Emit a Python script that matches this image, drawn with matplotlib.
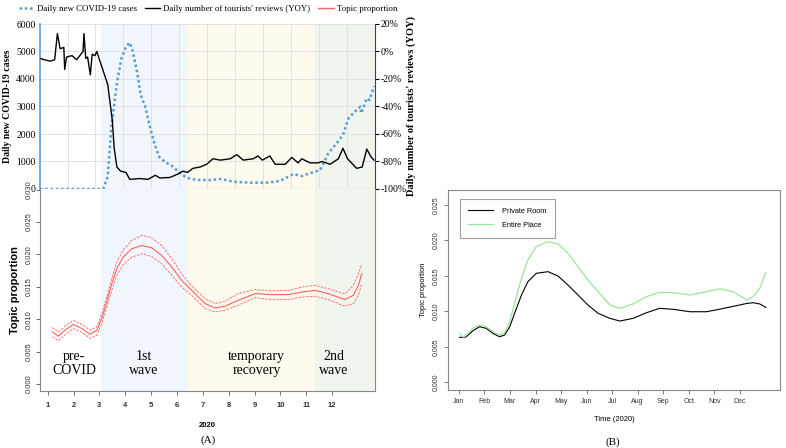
import matplotlib
matplotlib.use("Agg")
import matplotlib.pyplot as plt
from matplotlib.lines import Line2D
from matplotlib.patches import Rectangle

# ---- (A) top: daily cases + reviews YOY (day of year 2020) ----
case_days = [0, 69, 74, 78, 84, 89, 94, 98, 101, 106, 110, 115, 120, 125, 130, 137, 144,
             151, 160, 171, 186, 198, 211, 229, 248, 262, 277, 286, 297, 306, 315, 324,
             331, 337, 344, 350, 351, 357, 360, 365]
cases = [0, 0, 448, 2267, 3842, 4751, 5175, 5321, 5054, 4266, 3418, 2994, 2267, 1660,
         1176, 970, 848, 630, 412, 327, 327, 364, 267, 230, 230, 291, 545, 473, 594, 691,
         1297, 1660, 1963, 2570, 2812, 2994, 2751, 3297, 3236, 3745]

rev_days = [0, 5, 11, 16, 19, 22, 26, 27, 29, 35, 40, 47, 48, 50, 52, 55, 57, 60, 62, 66,
            70, 74, 79, 81, 84, 88, 94, 98, 109, 118, 126, 131, 142, 151, 156, 161, 167,
            175, 182, 189, 197, 208, 215, 222, 233, 238, 243, 251, 257, 268, 275, 282, 286,
            295, 304, 308, 317, 326, 331, 336, 346, 352, 357, 362, 365]
# reviews expressed on the left scale (5000 = 0% YOY, 0 = -100%)
reviews = [4750, 4700, 4650, 4700, 5650, 5100, 5150, 4350, 4800, 4850, 4700, 5000, 5650,
           4750, 4800, 4150, 4900, 4850, 5000, 4600, 4200, 3800, 2500, 1500, 800, 650, 600,
           350, 380, 350, 500, 400, 420, 550, 650, 600, 750, 800, 900, 1100, 1050, 1100,
           1250, 1050, 1100, 1200, 1050, 1200, 900, 900, 1150, 950, 1100, 950, 950, 1000,
           900, 1100, 1480, 1100, 750, 800, 1450, 1150, 1050]

# ---- (A) bottom: topic proportion with confidence band (month units) ----
topic_month = [1.18, 1.41, 1.67, 1.99, 2.32, 2.64, 2.90, 3.09, 3.28, 3.48, 3.67, 3.92,
               4.25, 4.64, 5.02, 5.41, 5.80, 6.18, 6.57, 7.09, 7.47, 7.86, 8.37, 9.02,
               9.67, 10.31, 10.83, 11.34, 11.85, 12.50, 12.82, 13.02, 13.15]
topic_mid = [0.00805, 0.00738, 0.00831, 0.00918, 0.00857, 0.00769, 0.00831, 0.0101,
             0.01266, 0.01549, 0.0178, 0.01959, 0.02088, 0.02138, 0.02103, 0.01985,
             0.01805, 0.016, 0.01446, 0.01241, 0.01174, 0.012, 0.01292, 0.01395, 0.0138,
             0.0138, 0.0142, 0.01446, 0.01395, 0.01303, 0.01369, 0.01523, 0.01703]
topic_hi = [0.00872, 0.00805, 0.0089, 0.00985, 0.0092, 0.00831, 0.00882, 0.0108, 0.01343,
            0.0163, 0.01882, 0.02072, 0.02215, 0.02297, 0.02257, 0.02138, 0.01934,
            0.01703, 0.01508, 0.01318, 0.01241, 0.01277, 0.01395, 0.01457, 0.01436,
            0.01446, 0.01497, 0.01523, 0.01472, 0.0139, 0.01523, 0.01703, 0.0185]
topic_lo = [0.00728, 0.00666, 0.0076, 0.00857, 0.0080, 0.00703, 0.00754, 0.0093, 0.0118,
            0.0145, 0.01677, 0.01841, 0.01959, 0.0201, 0.01969, 0.01857, 0.01677, 0.01497,
            0.01369, 0.01165, 0.01112, 0.01138, 0.01215, 0.01334, 0.01303, 0.01303,
            0.01343, 0.01354, 0.01303, 0.012, 0.01241, 0.01369, 0.01549]
phase_labels = ["pre-\nCOVID", "1st\nwave", "temporary\nrecovery", "2nd\nwave"]
phase_label_x = [2.02, 4.72, 9.08, 12.05]

# ---- (B) private room vs entire place ----
b_month = [1.03, 1.16, 1.29, 1.55, 1.81, 2.07, 2.33, 2.59, 2.79, 2.99, 3.18, 3.45, 3.70,
           4.03, 4.49, 4.88, 5.27, 5.66, 6.05, 6.45, 6.91, 7.30, 7.82, 8.34, 8.86, 9.39,
           10.04, 10.69, 11.22, 11.74, 12.26, 12.52, 12.78, 13.01]
private_room = [0.00634, 0.0063, 0.00642, 0.00727, 0.00783, 0.0076, 0.0069, 0.00642,
                0.00666, 0.00783, 0.00972, 0.0123, 0.01417, 0.01535, 0.01558, 0.01497,
                0.0137, 0.0123, 0.01089, 0.00972, 0.00901, 0.00863, 0.00901, 0.0098,
                0.01042, 0.01028, 0.00994, 0.00994, 0.0103, 0.0107, 0.0111, 0.01121,
                0.01103, 0.01056]
entire_place = [0.0069, 0.00634, 0.0066, 0.0076, 0.00807, 0.00783, 0.00713, 0.00666,
                0.00699, 0.00854, 0.01113, 0.01465, 0.01723, 0.0191, 0.0198, 0.01948,
                0.01817, 0.01628, 0.01441, 0.01276, 0.01089, 0.01042, 0.01103, 0.01206,
                0.01268, 0.01262, 0.0123, 0.01276, 0.01318, 0.01276, 0.01159, 0.01206,
                0.01324, 0.01544]
month_names = ["Jan", "Feb", "Mar", "Apr", "May", "Jun", "Jul", "Aug", "Sep", "Oct",
               "Nov", "Dec"]

W, H = 786, 448
fig = plt.figure(figsize=(W / 100, H / 100), dpi=100)

def box(l, t, r, b):
    return [l / W, 1 - b / H, (r - l) / W, (b - t) / H]

serif = "Liberation Serif"
sans = "Liberation Sans"
blue = "#5B9BD5"
red = "#FF6060"

# phase shading as axes fractions
phase_edges = [0.182, 0.439, 0.821, 1.0]
phase_cols = ["#F1F5FC", "#FFFAEE", "#F0F5EE"]

def shade(ax):
    for i in range(3):
        ax.add_patch(Rectangle((phase_edges[i], 0), phase_edges[i + 1] - phase_edges[i], 1,
                               transform=ax.transAxes, color=phase_cols[i], zorder=0, lw=0))

# top panel
ax1 = fig.add_axes(box(40, 24, 375, 189))
shade(ax1)
month_starts = [31, 60, 91, 121, 152, 182, 213, 244, 274, 305, 335]
for d in month_starts:
    ax1.axvline(d, color="#E2E2E2", lw=0.7, zorder=1)
for v in range(1000, 7000, 1000):
    ax1.axhline(v, color="#E2E2E2", lw=0.7, zorder=1)
ax1.plot(case_days, cases, color=blue, lw=1.8, dashes=(1, 1.1), zorder=3)
ax1.plot(rev_days, reviews, color="black", lw=1.0, zorder=4)
ax1.set_xlim(0, 366)
ax1.set_ylim(0, 6000)
ax1.set_xticks([])
ax1.set_yticks(range(0, 7000, 1000))
ax1.tick_params(axis="y", labelsize=7, length=0, pad=3)
for t in ax1.get_yticklabels():
    t.set_fontfamily(serif)
ax1.spines["left"].set_color(blue)
ax1.spines["left"].set_linewidth(1.2)
ax1.spines["top"].set_visible(False)
ax1.spines["right"].set_visible(False)
ax1.spines["bottom"].set_color("#BBBBBB")
ax1.set_ylabel("Daily new COVID-19 cases", fontfamily=serif, fontweight="bold",
               fontsize=7, labelpad=3)

ax1r = ax1.twinx()
ax1r.set_ylim(-100, 20)
ax1r.set_yticks(range(-100, 40, 20))
ax1r.set_yticklabels([f"{v}%" for v in range(-100, 40, 20)], fontfamily=serif, fontsize=7)
ax1r.tick_params(axis="y", length=3, width=0.8, pad=1)
for s in ["top", "left", "bottom"]:
    ax1r.spines[s].set_visible(False)
ax1r.spines["right"].set_color("#444444")
ax1r.set_ylabel("Daily number of tourists' reviews (YOY)", fontfamily=serif,
                fontweight="bold", fontsize=7.5, labelpad=0)

# bottom panel
ax2 = fig.add_axes(box(40, 189, 375, 391))
shade(ax2)
ax2.plot(topic_month, topic_mid, color=red, lw=0.8, zorder=3)
ax2.plot(topic_month, topic_hi, color=red, lw=0.6, ls=(0, (3, 1.5)), zorder=3)
ax2.plot(topic_month, topic_lo, color=red, lw=0.6, ls=(0, (3, 1.5)), zorder=3)
ax2.set_xlim(0.702, 13.66)
ax2.set_ylim(-0.00108, 0.0301)
ax2.set_xticks(range(1, 13))
ax2.set_yticks([0.0, 0.005, 0.010, 0.015, 0.020, 0.025, 0.030])
ax2.set_yticklabels(["0.000", "0.005", "0.010", "0.015", "0.020", "0.025", "0.030"],
                    rotation=90, va="center", fontfamily=sans, fontsize=5.5)
ax2.set_xticklabels([str(m) for m in range(1, 13)], fontfamily=sans, fontsize=5.5,
                    fontweight="bold")
ax2.tick_params(axis="y", length=3, width=0.6, colors="#555555", labelcolor="#333333",
                pad=2)
ax2.tick_params(axis="x", length=3, width=0.6, colors="#555555", labelcolor="#333333",
                pad=5)
ax2.spines["top"].set_visible(False)
for s in ["left", "bottom", "right"]:
    ax2.spines[s].set_color("#888888")
    ax2.spines[s].set_linewidth(0.8)
ax2.set_ylabel("Topic proportion", fontfamily=sans, fontweight="bold", fontsize=8,
               labelpad=4)
ax2.set_xlabel("2020", fontfamily=sans, fontweight="bold", fontsize=5.5, labelpad=9)
for lab, x in zip(phase_labels, phase_label_x):
    ax2.text(x, 0.0032, lab, ha="center", va="center", fontfamily=serif, fontsize=10,
             linespacing=1.15)

handles = [Line2D([], [], color=blue, lw=1.8, dashes=(1, 1.1)),
           Line2D([], [], color="black", lw=1.0),
           Line2D([], [], color=red, lw=1.0)]
fig.legend(handles, ["Daily new COVID-19 cases", "Daily number of tourists' reviews (YOY)",
                     "Topic proportion"],
           loc="center", bbox_to_anchor=(208 / W, 1 - 9 / H), ncol=3, frameon=False,
           prop={"family": serif, "size": 6.4}, handlelength=1.7, columnspacing=0.9,
           handletextpad=0.35)
fig.text(208 / W, 1 - 440 / H, "(A)", ha="center", va="center", fontfamily=serif,
         fontsize=8)

# panel B
ax3 = fig.add_axes(box(448, 190, 780, 390))
ax3.plot(b_month, private_room, color="black", lw=0.8, label="Private Room")
ax3.plot(b_month, entire_place, color="#9BE59B", lw=0.9, label="Entire Place")
ax3.set_xlim(0.573, 13.57)
ax3.set_ylim(-0.00108, 0.02708)
ax3.set_xticks(range(1, 13))
ax3.set_xticklabels(month_names, fontfamily=sans, fontsize=5)
ax3.set_yticks([0.0, 0.005, 0.010, 0.015, 0.020, 0.025])
ax3.set_yticklabels(["0.000", "0.005", "0.010", "0.015", "0.020", "0.025"], rotation=90,
                    va="center", fontfamily=sans, fontsize=5)
ax3.tick_params(length=3, width=0.6, colors="#666666", labelcolor="#333333", pad=3)
for s in ax3.spines.values():
    s.set_color("#888888")
    s.set_linewidth(0.8)
ax3.set_xlabel("Time (2020)", fontfamily=sans, fontsize=5.5, labelpad=8)
ax3.set_ylabel("Topic proportion", fontfamily=sans, fontsize=5.5, labelpad=4)
leg = ax3.legend(loc="upper left", bbox_to_anchor=(0.035, 0.955), frameon=True,
                 fancybox=False, prop={"family": sans, "size": 5.3}, borderpad=1.2,
                 handlelength=3.3, labelspacing=0.9, borderaxespad=0,
                 handletextpad=1.2)
leg.get_frame().set_edgecolor("#888888")
leg.get_frame().set_linewidth(0.8)
fig.text(613 / W, 1 - 442 / H, "(B)", ha="center", va="center", fontfamily=serif,
         fontsize=8)

fig.savefig("out.png", dpi=100)
